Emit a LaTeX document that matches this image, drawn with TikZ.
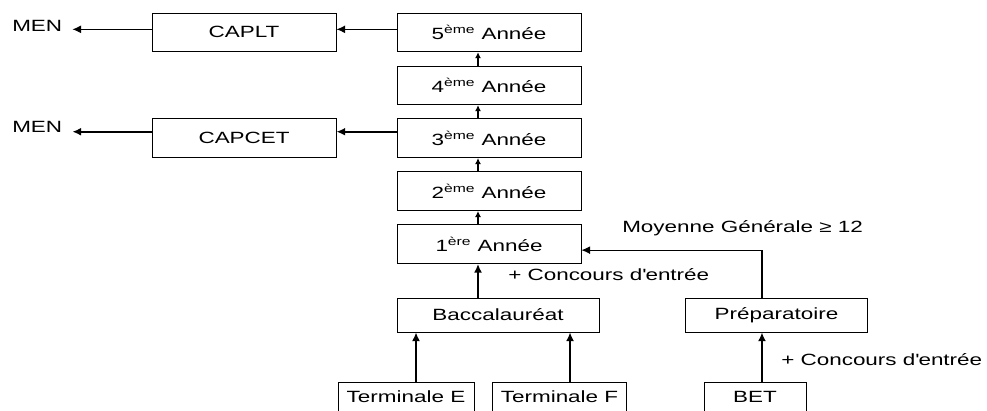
\documentclass[tikz,border=0pt]{standalone}
\usepackage{fontspec}
\setmainfont{Liberation Sans}[FakeStretch=1.38]
\usetikzlibrary{positioning,arrows.meta}

\begin{document}
\begin{tikzpicture}[x=0.75pt,y=-0.75pt,
  every node/.style={font=\fontsize{12.2}{14}\selectfont},
  box/.style={draw,line width=0.7pt,inner sep=0pt,minimum width=138pt,minimum height=29pt},
  bacbox/.style={box,minimum height=25.5pt},
  termbox/.style={box,minimum height=21.75pt},
  lbl/.style={inner sep=0pt,anchor=base west},
  yearup/.style={-{Latex[length=4.5pt,width=4.5pt]},line width=0.9pt},
  arr/.style={-{Latex[length=6.5pt,width=6pt]},line width=0.8pt},
  fatarr/.style={arr,line width=1.5pt}]

  \useasboundingbox (0,0) rectangle (987,410);
  \clip (0,0) rectangle (987,410);

  % annees
  \node[box] (y5) at (489,32.4) {5\textsuperscript{ème} Année}; %
  \node[box, below=10pt of y5] (y4) {4\textsuperscript{ème} Année}; %
  \node[box, below=10pt of y4] (y3) {3\textsuperscript{ème} Année}; %
  \node[box, below=10pt of y3] (y2) {2\textsuperscript{ème} Année}; %
  \node[box, below=10pt of y2] (y1) {1\textsuperscript{ère} Année}; %

  % diplomes
  \node[box, left=45pt of y5] (caplt) {CAPLT}; %
  \node[box, left=45pt of y3] (capcet) {CAPCET}; %
  \node[lbl] (men1) at (12,31.7) {MEN}; %
  \node[lbl] (men2) at (12,132) {MEN}; %

  % entree
  \node[bacbox, minimum width=151.5pt] (bac) at (498,315) {Baccalauréat}; %
  \node[bacbox, minimum width=137pt] (prep) at (776.5,315) {Préparatoire}; %
  \node[termbox, minimum width=102pt] (termE) at (406,396.5) {Terminale E}; %
  \node[termbox, minimum width=101pt] (termF) at (559.5,396.5) {Terminale F}; %
  \node[termbox, minimum width=76.5pt] (bet) at (755,396.5) {BET}; %

  \node[lbl] (moy) at (622,232) {Moyenne Générale ≥ 12}; %
  \node[lbl] (conc1) at (508,280.7) {+ Concours d\textquotesingle entrée}; %
  \node[lbl] (conc2) at (781,365) {+ Concours d\textquotesingle entrée}; %

  \foreach \a/\b in {y1/y2,y2/y3,y3/y4,y4/y5}
    \draw[yearup] ([xshift=-8.25pt]\a.north) -- ([xshift=-8.25pt]\b.south); %

  \draw[arr] ([yshift=2.3pt]y5.west) -- ([yshift=2.3pt]caplt.east); %
  \draw[arr] ([yshift=2.3pt]caplt.west) -- ([yshift=2.3pt,xshift=7.5pt]caplt.west -| men1.east); %
  \draw[fatarr] ([yshift=4.9pt]y3.west) -- ([yshift=4.9pt]capcet.east); %
  \draw[fatarr] ([yshift=4.9pt]capcet.west) -- ([yshift=4.9pt,xshift=7.5pt]capcet.west -| men2.east); %

  \draw[fatarr] ([xshift=-8.25pt]y1.south |- bac.north) -- ([xshift=-8.25pt]y1.south); %
  \draw[arr, line width=1.1pt] ([xshift=7.5pt]termE.north) -- ([xshift=7.5pt]termE.north |- bac.south); %
  \draw[arr, line width=1.1pt] ([xshift=7.9pt]termF.north) -- ([xshift=7.9pt]termF.north |- bac.south); %
  \draw[fatarr] ([xshift=-10.9pt]prep.south |- bet.north) -- ([xshift=-10.9pt]prep.south); %
  \draw[arr] ([xshift=-10.9pt]prep.north) |- ([yshift=-4.5pt]y1.east); %

\end{tikzpicture}
\end{document}
